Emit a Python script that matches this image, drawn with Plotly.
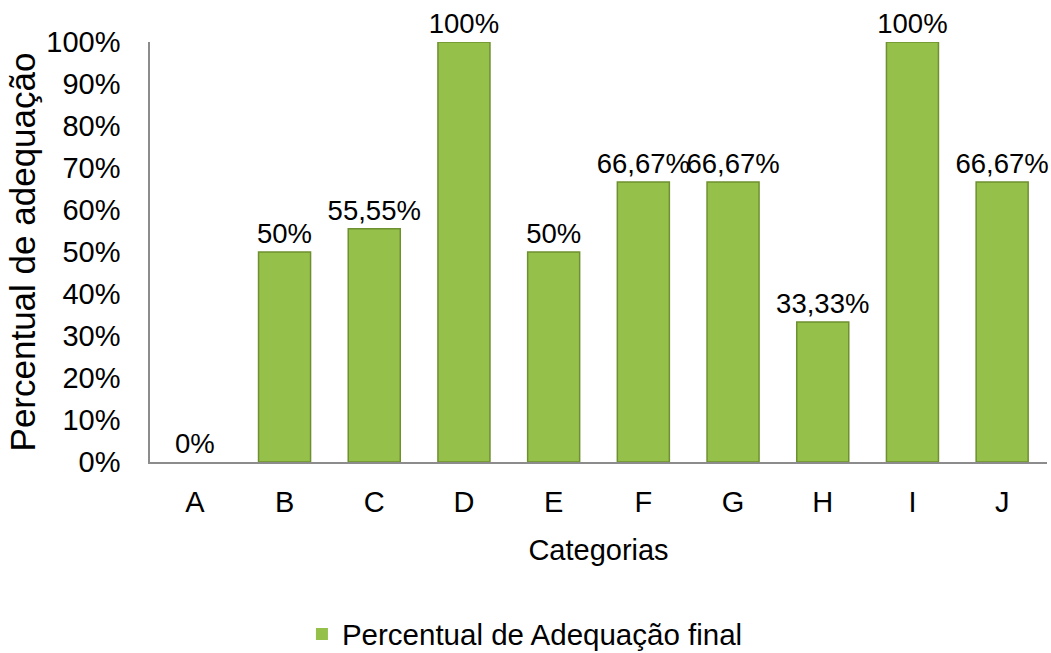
import plotly.graph_objects as go

categories = ["A", "B", "C", "D", "E", "F", "G", "H", "I", "J"]
values = [0, 50, 55.55, 100, 50, 66.67, 66.67, 33.33, 100, 66.67]
labels = ["0%", "50%", "55,55%", "100%", "50%", "66,67%", "66,67%", "33,33%", "100%", "66,67%"]
tick_vals = [0, 10, 20, 30, 40, 50, 60, 70, 80, 90, 100]
tick_text = ["0%", "10%", "20%", "30%", "40%", "50%", "60%", "70%", "80%", "90%", "100%"]

FONT = "Liberation Sans, Arial"
fsize = 29

line_widths = [0 if v == 0 else 1.5 for v in values]

fig = go.Figure()
fig.add_trace(go.Bar(
    x=categories, y=values, text=labels, textposition="outside",
    cliponaxis=False, constraintext="none",
    textfont=dict(family=FONT, size=27.5, color="#000000"),
    marker=dict(color="#95C14A", line=dict(color="#6E9030", width=line_widths)),
    name="Percentual de Adequação final",
    showlegend=True,
))

fig.update_layout(
    width=1051, height=653,
    margin=dict(l=150, r=4, t=42, b=191, autoexpand=False),
    plot_bgcolor="white", paper_bgcolor="white",
    font=dict(family=FONT, size=fsize, color="#000000"),
    bargap=0.42,
    showlegend=True,
    legend=dict(orientation="h", x=0.418, xanchor="center", y=-0.41, yanchor="middle",
                font=dict(family=FONT, size=29.5), itemwidth=30),
    xaxis=dict(
        showline=True, linecolor="#8C8C8C", linewidth=1.5,
        ticks="", showgrid=False, automargin=False,
        ticklabelstandoff=13,
        title=dict(text="Categorias", standoff=23, font=dict(family=FONT, size=fsize)),
    ),
    yaxis=dict(
        range=[0, 100], tickvals=tick_vals, ticktext=tick_text,
        showline=True, linecolor="#8C8C8C", linewidth=1.5,
        ticks="", showgrid=False, zeroline=False, automargin=False,
        ticklabelstandoff=22,
        title=dict(text="Percentual de adequação", standoff=0, font=dict(family=FONT, size=35)),
    ),
)

fig.write_html("out.html")
